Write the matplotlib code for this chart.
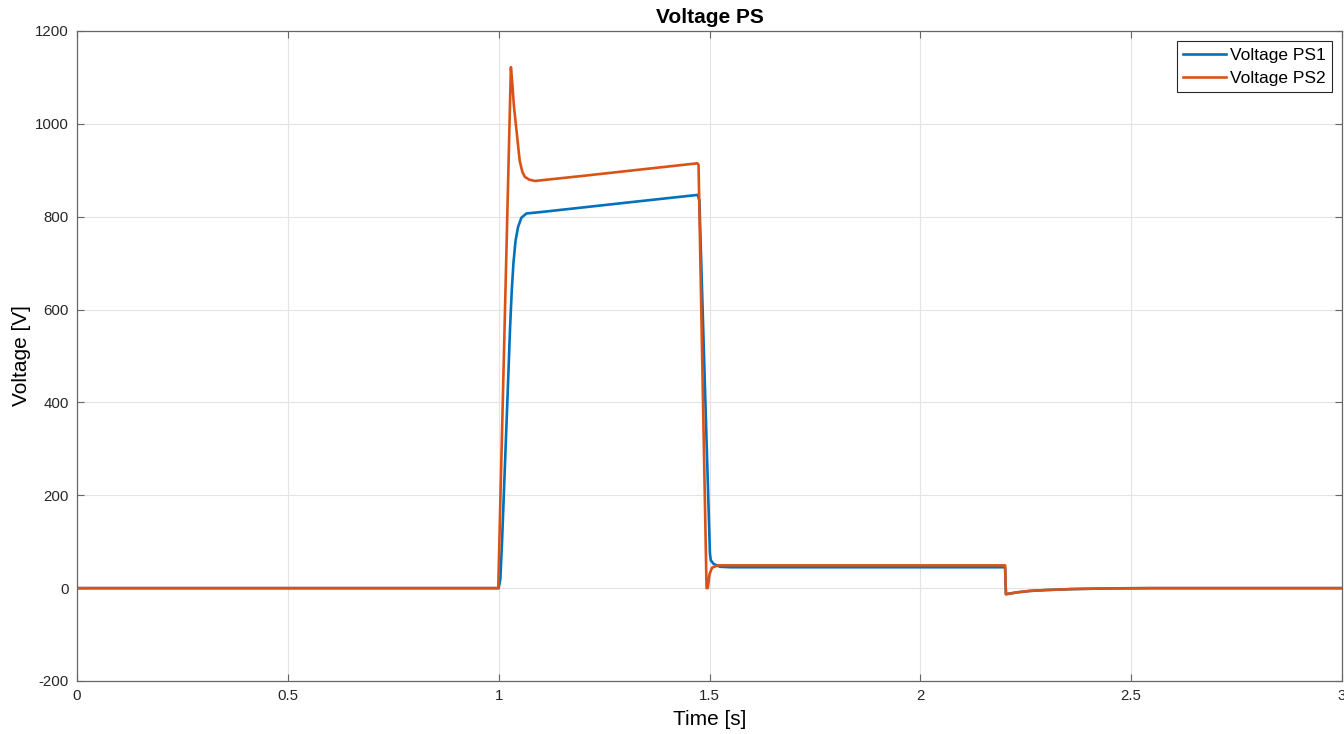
import numpy as np
import matplotlib
matplotlib.use("Agg")
import matplotlib.pyplot as plt

# points (time [s], voltage [V])
t_ps1 = [0.0, 1.000, 1.004, 1.008, 1.013, 1.018, 1.023, 1.027, 1.031, 1.035,
         1.040, 1.046, 1.054, 1.066, 1.10, 1.30, 1.472, 1.476, 1.501, 1.503,
         1.51, 1.525, 1.55, 2.201, 2.203, 2.23, 2.26, 2.30, 2.36, 2.45, 2.55, 3.0]
v_ps1 = [0, 0, 20, 100, 220, 340, 460, 560, 640, 700,
         748, 778, 798, 807, 810, 830, 847, 835, 75, 60,
         52, 46, 45, 45, -13, -9, -6, -4, -2, -0.5, 0, 0]

t_ps2 = [0.0, 0.999, 1.029, 1.033, 1.036, 1.040, 1.043, 1.047, 1.050, 1.056,
         1.062, 1.072, 1.086, 1.20, 1.471, 1.474, 1.493, 1.496, 1.500, 1.506,
         1.52, 2.201, 2.203, 2.23, 2.26, 2.30, 2.36, 2.45, 2.55, 3.0]
v_ps2 = [0, 0, 1122, 1080, 1040, 1005, 980, 945, 920, 897,
         886, 880, 877, 888, 915, 912, 0, 0, 30, 44,
         49, 49, -13, -9, -6, -4, -2, -0.5, 0, 0]

x_ticks = [0, 0.5, 1, 1.5, 2, 2.5, 3]
x_labels = ["0", "0.5", "1", "1.5", "2", "2.5", "3"]
y_ticks = [-200, 0, 200, 400, 600, 800, 1000, 1200]

plt.rcParams['font.family'] = ['Liberation Sans', 'DejaVu Sans']
plt.rcParams['axes.unicode_minus'] = False

fig = plt.figure(figsize=(13.44, 7.34), dpi=100)
ax = fig.add_axes([77 / 1344, 1 - 681 / 734, 1265 / 1344, 650 / 734])

ax.plot(t_ps1, v_ps1, color='#0072BD', lw=1.9, label='Voltage PS1')
ax.plot(t_ps2, v_ps2, color='#D95319', lw=1.9, label='Voltage PS2')

ax.set_xlim(0, 3)
ax.set_ylim(-200, 1200)
ax.set_xticks(x_ticks)
ax.set_xticklabels(x_labels)
ax.set_yticks(y_ticks)
ax.grid(True, color='#e3e3e3', lw=0.8)
ax.set_axisbelow(True)
ax.tick_params(direction='in', length=5, width=0.8, colors='#666666',
               labelcolor='#262626', labelsize=10.8, top=True, right=True, pad=6)
for s in ax.spines.values():
    s.set_color('#666666')
    s.set_linewidth(0.9)

ax.set_title('Voltage PS', fontsize=15, fontweight='bold', pad=6)
ax.set_xlabel('Time [s]', fontsize=15, labelpad=5)
ax.set_ylabel('Voltage [V]', fontsize=15, labelpad=3)

leg = ax.legend(loc='upper right', fontsize=12.5, fancybox=False, framealpha=1,
                edgecolor='#262626', borderpad=0.35, handlelength=2.5,
                handletextpad=0.2, labelspacing=0.45, borderaxespad=0.6)
leg.get_frame().set_linewidth(0.8)

fig.savefig('out.png', dpi=100)
